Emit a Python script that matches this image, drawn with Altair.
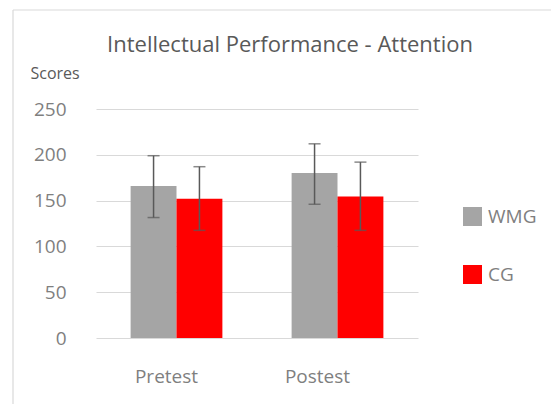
import altair as alt
import pandas as pd

phases = ["Pretest", "Pretest", "Postest", "Postest"]
groups = ["WMG", "CG", "WMG", "CG"]
means = [166, 152, 180, 154.5]
lower = [131.5, 117.5, 146, 117.5]
upper = [199, 187, 212, 192]

phase_order = ["Pretest", "Postest"]
group_order = ["WMG", "CG"]
group_colors = ["#A5A5A5", "#FF0000"]
y_ticks = [0, 50, 100, 150, 200, 250]

df = pd.DataFrame({"phase": phases, "group": groups, "mean": means,
                   "lower": lower, "upper": upper})

FONT = "Open Sans"
GRAY = "#7F7F7F"

x_enc = alt.X("phase:N", sort=phase_order,
              scale=alt.Scale(paddingInner=0.43, paddingOuter=0.215),
              axis=alt.Axis(title=None, labelAngle=0, labelFontSize=19,
                            labelColor=GRAY, labelFont=FONT, ticks=False,
                            domain=False, grid=False, labelPadding=29,
                            labelOffset={"condition": {"test": "datum.value == 'Pretest'", "value": -10}, "value": -20}))
xo_enc = alt.XOffset("group:N", sort=group_order, scale=alt.Scale(paddingInner=0))

base = alt.Chart(df)

bars = base.mark_bar().encode(
    x=x_enc,
    xOffset=xo_enc,
    y=alt.Y("mean:Q", scale=alt.Scale(domain=[0, 250], nice=False),
            axis=alt.Axis(values=y_ticks, title="Scores", titleAngle=0,
                          titleAlign="left", titleBaseline="alphabetic",
                          titleX=-66, titleY=-31, titleFontSize=16,
                          titleFontWeight="normal", titleColor="#595959",
                          titleFont=FONT,
                          labelFontSize=19, labelColor=GRAY, labelFont=FONT,
                          labelPadding=30, ticks=False, domain=False,
                          gridColor="#D9D9D9", gridWidth=1.2)),
    color=alt.Color("group:N", sort=group_order,
                    scale=alt.Scale(domain=group_order, range=group_colors),
                    legend=alt.Legend(title=None, orient="none", legendX=367,
                                      legendY=98, symbolType="square",
                                      symbolSize=361, symbolStrokeWidth=0,
                                      labelFontSize=19, labelColor=GRAY,
                                      labelFont=FONT, labelOffset=6,
                                      rowPadding=38, padding=0)),
)

err = base.mark_rule(color="#595959", strokeWidth=1.5).encode(
    x=alt.X("phase:N", sort=phase_order),
    xOffset=xo_enc,
    y="lower:Q",
    y2="upper:Q",
)

cap_lo = base.mark_tick(color="#595959", size=12, thickness=1.5).encode(
    x=alt.X("phase:N", sort=phase_order), xOffset=xo_enc, y="lower:Q")
cap_hi = base.mark_tick(color="#595959", size=12, thickness=1.5).encode(
    x=alt.X("phase:N", sort=phase_order), xOffset=xo_enc, y="upper:Q")

border_data = alt.Data(values=[{"k": 1}])
border_top = alt.Chart(border_data).mark_rule(color="#D9D9D9", strokeWidth=1.2).encode(
    x=alt.value(-83), x2=alt.value(460), y=alt.value(-99))
border_left = alt.Chart(border_data).mark_rule(color="#D9D9D9", strokeWidth=1.2).encode(
    x=alt.value(-83), y=alt.value(-99), y2=alt.value(310))

chart = alt.layer(border_top, border_left, bars, err, cap_lo, cap_hi).properties(
    width=322, height=229,
    title=alt.TitleParams("Intellectual Performance - Attention", anchor="middle",
                          frame="group", dx=33, fontSize=22, font=FONT,
                          fontWeight="normal", color="#595959", offset=-65,
                          baseline="alphabetic"),
    padding={"left": 88, "top": 101, "right": 133, "bottom": 66},
    autosize=alt.AutoSizeParams(type="none"),
    background="white",
).configure_view(stroke=None, strokeWidth=0)

chart.save("out.html", embed_options={"renderer": "svg", "actions": False})
